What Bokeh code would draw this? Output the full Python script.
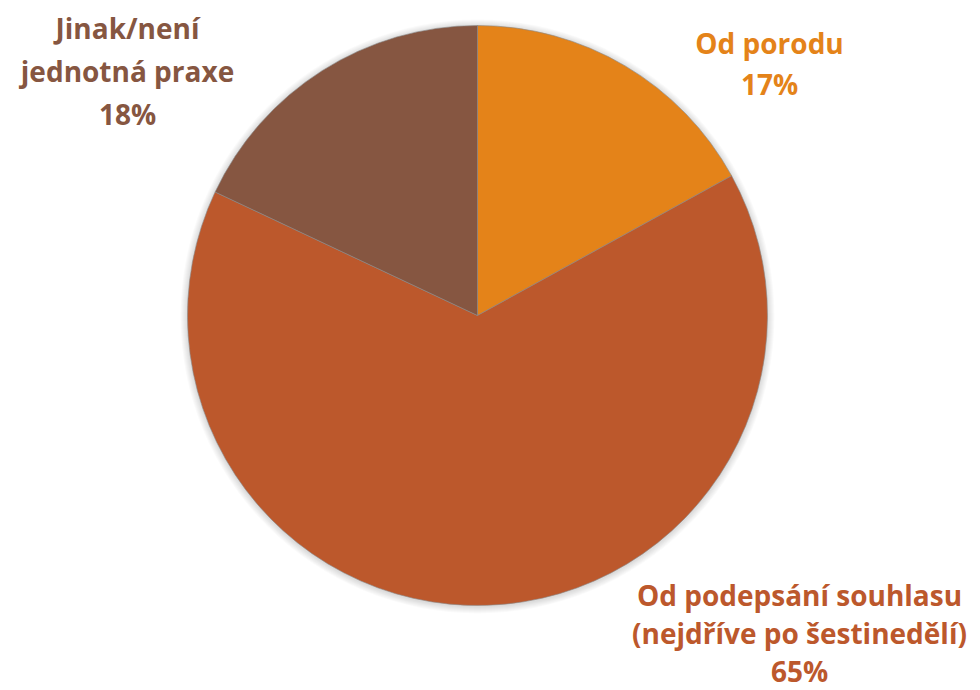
import math
from bokeh.plotting import figure
from bokeh.models import ColumnDataSource, Range1d
from bokeh.core.properties import value
from bokeh.embed import file_html
from bokeh.resources import INLINE

# Data
categories = ["Od porodu", "Od podepsání souhlasu\n(nejdříve po šestinedělí)", "Jinak/není\njednotná praxe"]
shares = [17, 65, 18]
colors = ["#E48319", "#BC582C", "#865641"]

W, H = 980, 690
p = figure(width=W, height=H, output_backend="svg", toolbar_location=None,
           x_range=Range1d(0, W), y_range=Range1d(0, H), min_border=0,
           outline_line_color=None)
p.axis.visible = False
p.grid.visible = False

cx, cy, r = 477, H - 315, 290

# soft shadow
for k in range(7, 0, -1):
    p.circle(x=[cx], y=[cy - 1], radius=r + k, fill_color="#000000",
             fill_alpha=0.018, line_color=None)

total = sum(shares)
starts, ends = [], []
cum = 0.0
for v in shares:
    starts.append(math.pi / 2 - 2 * math.pi * cum / total)
    cum += v
    ends.append(math.pi / 2 - 2 * math.pi * cum / total)

src = ColumnDataSource(dict(start=starts, end=ends, color=colors))
p.wedge(x=cx, y=cy, radius=r, start_angle="start", end_angle="end",
        direction="clock", fill_color="color", line_color="#8a8a8a",
        line_width=1, line_alpha=0.6, source=src)

# labels: (center x, first line y from top, line spacing)
label_pos = [(769, 42, 41), (799, 594, 38), (127, 27, 43)]
for cat, v, col, (lx, ly, lh) in zip(categories, shares, colors, label_pos):
    lines = cat.split("\n") + [f"{v}%"]
    ys = [H - (ly + i * lh) for i in range(len(lines))]
    p.text(x=[lx] * len(lines), y=ys, text=lines, text_color=col,
           text_font=value("Open Sans"), text_font_style="bold",
           text_font_size="28px", text_align="center", text_baseline="middle")

open("out.html", "w").write(file_html(p, INLINE))
